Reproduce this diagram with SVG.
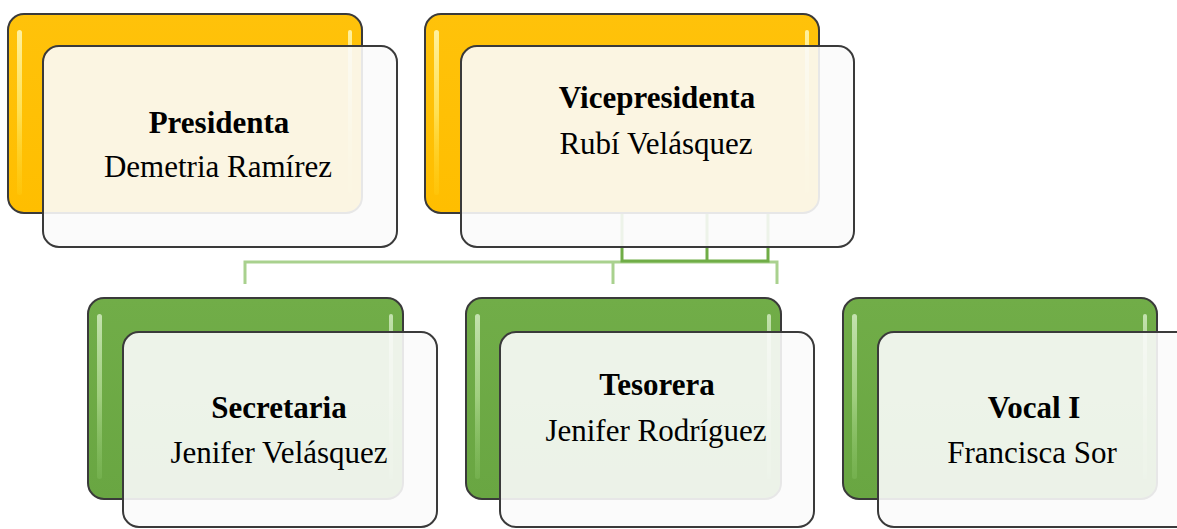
<svg xmlns="http://www.w3.org/2000/svg" width="1177" height="529" viewBox="0 0 1177 529">
<defs>
<linearGradient id="gOr" x1="0" y1="0" x2="0" y2="1">
<stop offset="0" stop-color="#FFC20A"/><stop offset="1" stop-color="#FFBE00"/>
</linearGradient>
<linearGradient id="gGr" x1="0" y1="0" x2="0" y2="1">
<stop offset="0" stop-color="#71AD48"/><stop offset="1" stop-color="#69A642"/>
</linearGradient>
<linearGradient id="hlOr" x1="0" y1="0" x2="0" y2="1">
<stop offset="0" stop-color="#FFF6B0" stop-opacity="0.9"/><stop offset="0.5" stop-color="#FFE866" stop-opacity="0.8"/><stop offset="1" stop-color="#FFD21A" stop-opacity="0.3"/>
</linearGradient>
<linearGradient id="hlGr" x1="0" y1="0" x2="0" y2="1">
<stop offset="0" stop-color="#D8EFC8" stop-opacity="0.8"/><stop offset="0.5" stop-color="#B6DE98" stop-opacity="0.7"/><stop offset="1" stop-color="#8CC668" stop-opacity="0.3"/>
</linearGradient>
</defs>
<style>
.back{stroke:#3a3a3a;stroke-width:2}
.or{fill:url(#gOr)}
.gr{fill:url(#gGr)}
.front{fill:#fbfbfb;fill-opacity:0.9;stroke:#3a3a3a;stroke-width:2}
.hlo{fill:url(#hlOr)}
.hlg{fill:url(#hlGr)}
.t{font-family:"Liberation Serif","Times New Roman",serif;font-size:31px;fill:#000;text-anchor:middle}
.b{font-weight:bold}
.c1{stroke:#A9D18E;stroke-width:3;fill:none}
.c2{stroke:#70AD47;stroke-width:3;fill:none}
</style>

<g id="connectors">
<polyline class="c1" points="245,284 245,262 777,262 777,284"/>
<line class="c1" x1="613" y1="262" x2="613" y2="284"/>
<polyline class="c2" points="622,213 622,261 768,261 768,213"/>
<line class="c2" x1="707" y1="213" x2="707" y2="261"/>
</g>

<g id="presidenta">
<rect class="back or" x="8" y="14" width="354" height="199" rx="16"/>
<rect class="hlo" x="17" y="30" width="5" height="165" rx="2.5"/>
<rect class="hlo" x="348" y="30" width="4" height="165" rx="2"/>
<rect class="front" x="43" y="46" width="354" height="201" rx="16"/>
<text class="t b" x="219" y="133">Presidenta</text>
<text class="t" x="218" y="177">Demetria Ramírez</text>
</g>

<g id="vicepresidenta">
<rect class="back or" x="425" y="14" width="394" height="199" rx="16"/>
<rect class="hlo" x="434" y="30" width="5" height="165" rx="2.5"/>
<rect class="hlo" x="805" y="30" width="4" height="165" rx="2"/>
<rect class="front" x="461" y="46" width="393" height="201" rx="16"/>
<text class="t b" x="657" y="108">Vicepresidenta</text>
<text class="t" x="656" y="154">Rubí Velásquez</text>
</g>

<g id="secretaria">
<rect class="back gr" x="88" y="298" width="315" height="201" rx="16"/>
<rect class="hlg" x="97" y="314" width="5" height="165" rx="2.5"/>
<rect class="hlg" x="389" y="314" width="4" height="165" rx="2"/>
<rect class="front" x="123" y="332" width="314" height="195" rx="16"/>
<text class="t b" x="279" y="418">Secretaria</text>
<text class="t" x="279" y="463">Jenifer Velásquez</text>
</g>

<g id="tesorera">
<rect class="back gr" x="466" y="298" width="315" height="201" rx="16"/>
<rect class="hlg" x="475" y="314" width="5" height="165" rx="2.5"/>
<rect class="hlg" x="767" y="314" width="4" height="165" rx="2"/>
<rect class="front" x="500" y="332" width="314" height="195" rx="16"/>
<text class="t b" x="657" y="395">Tesorera</text>
<text class="t" x="656" y="441">Jenifer Rodríguez</text>
</g>

<g id="vocal">
<rect class="back gr" x="843" y="298" width="314" height="201" rx="16"/>
<rect class="hlg" x="852" y="314" width="5" height="165" rx="2.5"/>
<rect class="hlg" x="1143" y="314" width="4" height="165" rx="2"/>
<rect class="front" x="878" y="332" width="314" height="195" rx="16"/>
<text class="t b" x="1034" y="418">Vocal I</text>
<text class="t" x="1032" y="463">Francisca Sor</text>
</g>
</svg>
